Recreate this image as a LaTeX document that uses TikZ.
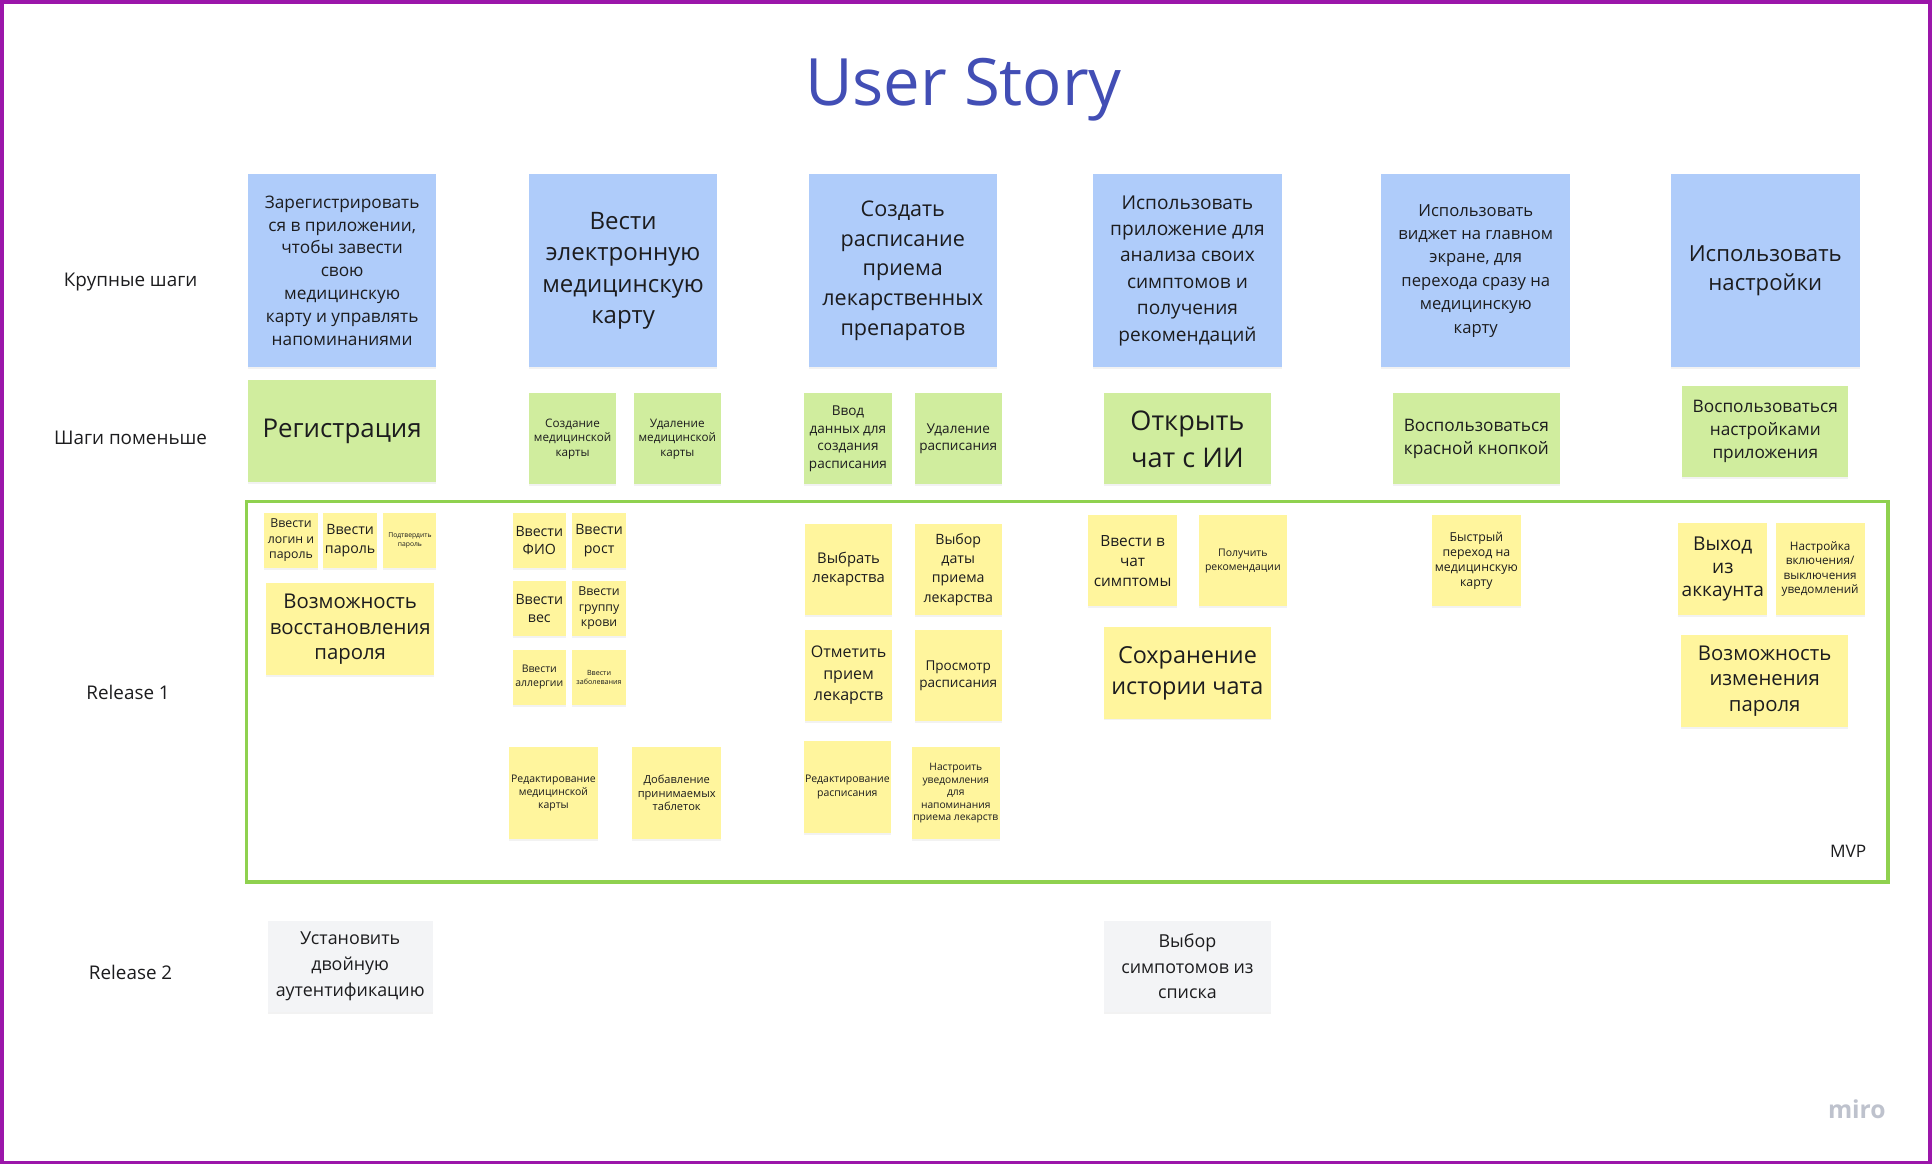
\documentclass[tikz,border=0pt]{standalone}
\usepackage{fontspec}
\setmainfont{Open Sans}
\usetikzlibrary{shadows}
\definecolor{ink}{RGB}{28,28,30}
\definecolor{titleblue}{RGB}{66,78,181}
\definecolor{frameviolet}{RGB}{155,22,170}
\definecolor{stickyblue}{RGB}{175,204,250}
\definecolor{stickygreen}{RGB}{208,237,158}
\definecolor{stickyyellow}{RGB}{255,245,157}
\definecolor{stickygrey}{RGB}{243,244,246}
\definecolor{mvpgreen}{RGB}{143,209,79}
\definecolor{logogrey}{RGB}{190,194,205}
\tikzset{
  card/.style={anchor=north west, inner sep=1pt, align=center, text=ink,
    drop shadow={shadow xshift=0pt, shadow yshift=-1.5pt, opacity=0.10}},
  bluecard/.style={card, fill=stickyblue},
  greencard/.style={card, fill=stickygreen},
  yellowcard/.style={card, fill=stickyyellow},
  greycard/.style={card, fill=stickygrey},
  sz/.style 2 args={minimum width=#1pt, minimum height=#2pt},
  fs/.style 2 args={font=\fontsize{#1}{#2}\selectfont},
  rowlabel/.style={anchor=center, text=ink, font=\fontsize{15.3}{19}\selectfont},
}
\begin{document}
\begin{tikzpicture}[x=1pt,y=-1pt]
\useasboundingbox (0,0) rectangle (1568,945);
\fill[white] (0,0) rectangle (1568,945);
\draw[frameviolet, line width=3pt] (1.5,1.5) rectangle (1566.5,943.5);

\node[text=titleblue, font=\fontsize{53}{60}\selectfont] (title) at (782,73) {User Story};

% row labels
\node[rowlabel] (lab1) at (106,229) {Крупные шаги};
\node[rowlabel] (lab2) at (106,355) {Шаги поменьше};
\node[rowlabel] (lab3) at (104,562) {Release 1};
\node[rowlabel] (lab4) at (106,789) {Release 2};

% MVP frame
\draw[mvpgreen, line width=3pt] (200,407) rectangle (1532,716);
\node[text=ink, font=\fontsize{14}{17}\selectfont] (mvp) at (1500,691) {MVP};

% big steps
\node[bluecard, sz={153}{157}, fs={14}{18.6}] (b1) at (201,141) {Зарегистрировать\\ся в приложении,\\чтобы завести\\свою\\медицинскую\\карту и управлять\\напоминаниями};
\node[bluecard, sz={153}{157}, fs={19.5}{25.6}] (b2) at (429,141) {Вести\\электронную\\медицинскую\\карту};
\node[bluecard, sz={153}{157}, fs={17.5}{24}] (b3) at (656,141) {Создать\\расписание\\приема\\лекарственных\\препаратов};
\node[bluecard, sz={153}{157}, fs={15.5}{21.5}] (b4) at (887,141) {Использовать\\приложение для\\анализа своих\\симптомов и\\получения\\рекомендаций};
\node[bluecard, sz={153}{157}, fs={13.5}{19}] (b5) at (1121,141) {Использовать\\виджет на главном\\экране, для\\перехода сразу на\\медицинскую\\карту};
\node[bluecard, sz={153}{157}, fs={18}{23.5}] (b6) at (1356,141) {Использовать\\настройки};

% smaller steps
\node[greencard, sz={153}{83}, fs={21}{28}] (g1) at (201,308) {Регистрация};
\node[greencard, sz={71}{74}, fs={9.5}{11.7}] (g2) at (429,319) {Создание\\медицинской\\карты};
\node[greencard, sz={71}{74}, fs={9.5}{11.7}] (g3) at (514,319) {Удаление\\медицинской\\карты};
\node[greencard, sz={72}{74}, fs={11}{14.2}] (g4) at (652,319) {Ввод\\данных для\\создания\\расписания};
\node[greencard, sz={71}{74}, fs={11}{14.2}] (g5) at (742,319) {Удаление\\расписания};
\node[greencard, sz={135}{74}, fs={22}{30}] (g6) at (896,319) {Открыть\\чат с ИИ};
\node[greencard, sz={136}{74}, fs={14}{18}] (g7) at (1130,319) {Воспользоваться\\красной кнопкой};
\node[greencard, sz={135}{74}, fs={14}{18.7}] (g8) at (1365,313) {Воспользоваться\\настройками\\приложения};

% release 1
\node[yellowcard, sz={44}{45}, fs={10}{12.6}] (y1) at (214,416) {Ввести\\логин и\\пароль};
\node[yellowcard, sz={44}{45}, fs={11.5}{15}] (y2) at (262,416) {Ввести\\пароль};
\node[yellowcard, sz={43}{45}, fs={5.5}{7}] (y3) at (311,416) {Подтвердить\\пароль};
\node[yellowcard, sz={136}{75}, fs={16.5}{20.8}] (y4) at (216,473) {Возможность\\восстановления\\пароля};

\node[yellowcard, sz={43}{45}, fs={11.5}{15}] (y5) at (416,416) {Ввести\\ФИО};
\node[yellowcard, sz={44}{45}, fs={11.5}{15}] (y6) at (464,416) {Ввести\\рост};
\node[yellowcard, sz={43}{45}, fs={11.5}{15}] (y7) at (416,471) {Ввести\\вес};
\node[yellowcard, sz={44}{45}, fs={10}{12.4}] (y8) at (464,471) {Ввести\\группу\\крови};
\node[yellowcard, sz={43}{45}, fs={8.5}{11.4}] (y9) at (416,527) {Ввести\\аллергии};
\node[yellowcard, sz={44}{45}, fs={5.8}{7.6}] (y10) at (464,527) {Ввести\\заболевания};
\node[yellowcard, sz={72}{75}, fs={8.5}{10.3}] (y11) at (413,606) {Редактирование\\медицинской\\карты};
\node[yellowcard, sz={72}{75}, fs={9}{10.9}] (y12) at (513,606) {Добавление\\принимаемых\\таблеток};

\node[yellowcard, sz={71}{74}, fs={12}{15.5}] (y13) at (653,425) {Выбрать\\лекарства};
\node[yellowcard, sz={71}{74}, fs={11.5}{15.6}] (y14) at (742,425) {Выбор\\даты\\приема\\лекарства};
\node[yellowcard, sz={71}{74}, fs={13}{17.5}] (y15) at (653,511) {Отметить\\прием\\лекарств};
\node[yellowcard, sz={71}{74}, fs={11}{14}] (y16) at (742,511) {Просмотр\\расписания};
\node[yellowcard, sz={71}{75}, fs={8.5}{10.8}] (y17) at (652,601) {Редактирование\\расписания};
\node[yellowcard, sz={71}{75}, fs={8.3}{10.1}] (y18) at (740,606) {Настроить\\уведомления\\для\\напоминания\\приема лекарств};

\node[yellowcard, sz={72}{74}, fs={12.5}{16}] (y19) at (883,418) {Ввести в\\чат\\симптомы};
\node[yellowcard, sz={71}{74}, fs={8.5}{10.8}] (y20) at (973,418) {Получить\\рекомендации};
\node[yellowcard, sz={135}{74}, fs={19}{25}] (y21) at (896,509) {Сохранение\\истории чата};

\node[yellowcard, sz={72}{74}, fs={10}{12.3}] (y22) at (1162,418) {Быстрый\\переход на\\медицинскую\\карту};

\node[yellowcard, sz={72}{75}, fs={15.5}{19}] (y23) at (1362,424) {Выход\\из\\аккаунта};
\node[yellowcard, sz={72}{75}, fs={9.5}{11.8}] (y24) at (1441,424) {Настройка\\включения/\\выключения\\уведомлений};
\node[yellowcard, sz={136}{75}, fs={16.5}{20.7}] (y25) at (1364,515) {Возможность\\изменения\\пароля};

% release 2
\node[greycard, sz={134}{74}, fs={14.5}{21}] (r1) at (217,747) {Установить\\двойную\\аутентификацию};
\node[greycard, sz={135}{74}, fs={14.5}{21}] (r2) at (896,747) {Выбор\\симпотомов из\\списка};

% logo
\node[text=logogrey, font=\fontsize{20}{24}\selectfont\bfseries] (logo) at (1507,900) {miro};
\end{tikzpicture}
\end{document}
